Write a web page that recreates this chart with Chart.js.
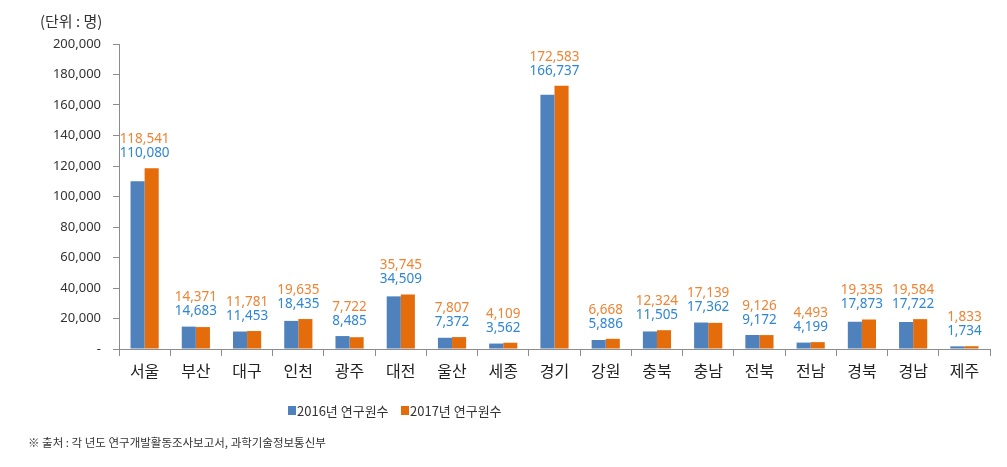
<!DOCTYPE html>
<html><head><meta charset="utf-8">
<script src="https://cdn.jsdelivr.net/npm/chart.js@4"></script>
<style>html,body{margin:0;padding:0;background:#fff}#wrap{width:1007px;height:467px;position:relative}</style>
</head><body><div id="wrap"><canvas id="c" width="1007" height="467"></canvas></div>
<script>
const categories = ['서울','부산','대구','인천','광주','대전','울산','세종','경기','강원','충북','충남','전북','전남','경북','경남','제주'];
const researchers2016 = [110080,14683,11453,18435,8485,34509,7372,3562,166737,5886,11505,17362,9172,4199,17873,17722,1734];
const researchers2017 = [118541,14371,11781,19635,7722,35745,7807,4109,172583,6668,12324,17139,9126,4493,19335,19584,1833];
const seriesNames = ['2016년 연구원수','2017년 연구원수'];
const yTicks = {min:0, max:200000, step:20000};
const unitText = '(단위 : 명)';
const sourceText = '※ 출처 : 각 년도 연구개발활동조사보고서, 과학기술정보통신부';

const FONT = "'Noto Sans','Noto Sans CJK KR',sans-serif";
const KFONT = "'Noto Sans CJK KR','Noto Sans',sans-serif";
const fmt = v => v.toLocaleString('en-US');

const labelsPlugin = {
  id:'extras',
  afterDatasetsDraw(chart){
    const ctx = chart.ctx, xs = chart.scales.x, ys = chart.scales.y;
    ctx.save();
    ctx.font = "13.5px " + FONT;
    ctx.textAlign = 'center';
    ctx.textBaseline = 'middle';
    categories.forEach((c,i)=>{
      const x = xs.getPixelForValue(i);
      const top = ys.getPixelForValue(Math.max(researchers2016[i], researchers2017[i]));
      const yb = top - 15, yo = yb - 14;
      ctx.fillStyle = '#2F86D3';
      ctx.fillText(fmt(researchers2016[i]), x, yb);
      ctx.fillStyle = '#EE8434';
      ctx.fillText(fmt(researchers2017[i]), x, yo);
    });
    ctx.restore();
  },
  afterDraw(chart){
    const ctx = chart.ctx;
    ctx.save();
    ctx.fillStyle = '#333';
    ctx.textBaseline = 'middle';
    ctx.textAlign = 'left';
    ctx.font = "15px " + KFONT;
    ctx.fillText(unitText, 40, 21);
    ctx.font = "11.5px " + KFONT;
    ctx.fillText(sourceText, 28, 443);
    const colors = ['#4F81BD','#E46C0A'];
    const lx = [288, 401];
    ctx.font = "13px " + KFONT;
    seriesNames.forEach((n,k)=>{
      ctx.fillStyle = colors[k];
      ctx.fillRect(lx[k], 406, 8, 9);
      ctx.fillStyle = '#333';
      ctx.fillText(n, lx[k]+9, 411);
    });
    ctx.restore();
  }
};

new Chart(document.getElementById('c'), {
  type:'bar',
  data:{
    labels: categories,
    datasets:[
      {label:seriesNames[0], data:researchers2016, backgroundColor:'#4F81BD', categoryPercentage:0.55, barPercentage:1},
      {label:seriesNames[1], data:researchers2017, backgroundColor:'#E46C0A', categoryPercentage:0.55, barPercentage:1}
    ]
  },
  options:{
    responsive:false, animation:false,
    layout:{padding:{top:44,right:17,bottom:0,left:0}},
    plugins:{legend:{display:false}, tooltip:{enabled:false}},
    scales:{
      x:{
        afterFit(s){ s.height = 118; },
        border:{color:'#8C8C8C', width:1},
        grid:{drawOnChartArea:false, color:'#8C8C8C', tickLength:7, offset:true},
        ticks:{color:'#222', font:{family:KFONT, size:16}, padding:5}
      },
      y:{
        min:yTicks.min, max:yTicks.max,
        afterFit(s){ s.width = 119; },
        border:{color:'#8C8C8C', width:1},
        grid:{drawOnChartArea:false, color:'#8C8C8C', tickLength:6},
        ticks:{stepSize:yTicks.step, color:'#333', font:{family:FONT, size:13}, padding:12,
          callback:v => v===0 ? '-' : fmt(v)}
      }
    }
  },
  plugins:[labelsPlugin]
});
</script></body></html>
